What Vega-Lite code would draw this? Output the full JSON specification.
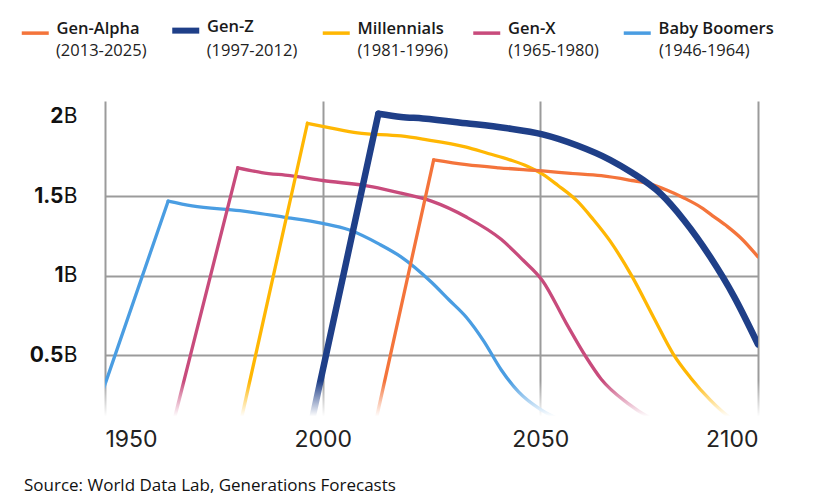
{
  "$schema": "https://vega.github.io/schema/vega-lite/v6.json",
  "width": 653,
  "height": 318,
  "autosize": {"type": "none"},
  "padding": {"left": 105, "top": 101, "right": 62, "bottom": 85},
  "background": "white",
  "config": {
    "view": {"stroke": null},
    "font": "Inter",
    "legend": {"padding": 0}
  },
  "title": {
    "text": "Source: World Data Lab, Generations Forecasts",
    "orient": "bottom",
    "anchor": "start",
    "frame": "group",
    "font": "Open Sans",
    "fontSize": 17,
    "fontWeight": "normal",
    "color": "#111111",
    "dx": -81,
    "offset": 27
  },
  "datasets": {
    "pop": [
      {"gen": "Baby Boomers", "years": "(1946-1964)", "phase": "rise", "year": 1946, "v": 0},
      {"gen": "Baby Boomers", "years": "(1946-1964)", "phase": "rise", "year": 1964.5, "v": 1.47},
      {"gen": "Baby Boomers", "years": "(1946-1964)", "phase": "fall", "year": 1964.5, "v": 1.47},
      {"gen": "Baby Boomers", "years": "(1946-1964)", "phase": "fall", "year": 1970, "v": 1.44},
      {"gen": "Baby Boomers", "years": "(1946-1964)", "phase": "fall", "year": 1981, "v": 1.41},
      {"gen": "Baby Boomers", "years": "(1946-1964)", "phase": "fall", "year": 1991, "v": 1.37},
      {"gen": "Baby Boomers", "years": "(1946-1964)", "phase": "fall", "year": 2000, "v": 1.33},
      {"gen": "Baby Boomers", "years": "(1946-1964)", "phase": "fall", "year": 2006, "v": 1.29},
      {"gen": "Baby Boomers", "years": "(1946-1964)", "phase": "fall", "year": 2013, "v": 1.2},
      {"gen": "Baby Boomers", "years": "(1946-1964)", "phase": "fall", "year": 2018, "v": 1.12},
      {"gen": "Baby Boomers", "years": "(1946-1964)", "phase": "fall", "year": 2025, "v": 0.96},
      {"gen": "Baby Boomers", "years": "(1946-1964)", "phase": "fall", "year": 2029, "v": 0.85},
      {"gen": "Baby Boomers", "years": "(1946-1964)", "phase": "fall", "year": 2033, "v": 0.74},
      {"gen": "Baby Boomers", "years": "(1946-1964)", "phase": "fall", "year": 2037, "v": 0.59},
      {"gen": "Baby Boomers", "years": "(1946-1964)", "phase": "fall", "year": 2041, "v": 0.41},
      {"gen": "Baby Boomers", "years": "(1946-1964)", "phase": "fall", "year": 2045, "v": 0.27},
      {"gen": "Baby Boomers", "years": "(1946-1964)", "phase": "fall", "year": 2050, "v": 0.16},
      {"gen": "Baby Boomers", "years": "(1946-1964)", "phase": "fall", "year": 2055, "v": 0.09},
      {"gen": "Baby Boomers", "years": "(1946-1964)", "phase": "fall", "year": 2062, "v": 0.03},
      {"gen": "Gen-X", "years": "(1965-1980)", "phase": "rise", "year": 1965, "v": 0},
      {"gen": "Gen-X", "years": "(1965-1980)", "phase": "rise", "year": 1980.5, "v": 1.68},
      {"gen": "Gen-X", "years": "(1965-1980)", "phase": "fall", "year": 1980.5, "v": 1.68},
      {"gen": "Gen-X", "years": "(1965-1980)", "phase": "fall", "year": 1986, "v": 1.65},
      {"gen": "Gen-X", "years": "(1965-1980)", "phase": "fall", "year": 1992.5, "v": 1.63},
      {"gen": "Gen-X", "years": "(1965-1980)", "phase": "fall", "year": 2000, "v": 1.6},
      {"gen": "Gen-X", "years": "(1965-1980)", "phase": "fall", "year": 2011.5, "v": 1.56},
      {"gen": "Gen-X", "years": "(1965-1980)", "phase": "fall", "year": 2018, "v": 1.52},
      {"gen": "Gen-X", "years": "(1965-1980)", "phase": "fall", "year": 2025, "v": 1.47},
      {"gen": "Gen-X", "years": "(1965-1980)", "phase": "fall", "year": 2033, "v": 1.37},
      {"gen": "Gen-X", "years": "(1965-1980)", "phase": "fall", "year": 2041, "v": 1.23},
      {"gen": "Gen-X", "years": "(1965-1980)", "phase": "fall", "year": 2046, "v": 1.1},
      {"gen": "Gen-X", "years": "(1965-1980)", "phase": "fall", "year": 2050.5, "v": 0.97},
      {"gen": "Gen-X", "years": "(1965-1980)", "phase": "fall", "year": 2056, "v": 0.7},
      {"gen": "Gen-X", "years": "(1965-1980)", "phase": "fall", "year": 2060.5, "v": 0.49},
      {"gen": "Gen-X", "years": "(1965-1980)", "phase": "fall", "year": 2064, "v": 0.35},
      {"gen": "Gen-X", "years": "(1965-1980)", "phase": "fall", "year": 2070, "v": 0.2},
      {"gen": "Gen-X", "years": "(1965-1980)", "phase": "fall", "year": 2075, "v": 0.11},
      {"gen": "Gen-X", "years": "(1965-1980)", "phase": "fall", "year": 2082, "v": 0.04},
      {"gen": "Millennials", "years": "(1981-1996)", "phase": "rise", "year": 1980.5, "v": 0},
      {"gen": "Millennials", "years": "(1981-1996)", "phase": "rise", "year": 1996.5, "v": 1.96},
      {"gen": "Millennials", "years": "(1981-1996)", "phase": "fall", "year": 1996.5, "v": 1.96},
      {"gen": "Millennials", "years": "(1981-1996)", "phase": "fall", "year": 2002, "v": 1.93},
      {"gen": "Millennials", "years": "(1981-1996)", "phase": "fall", "year": 2008, "v": 1.9},
      {"gen": "Millennials", "years": "(1981-1996)", "phase": "fall", "year": 2018, "v": 1.88},
      {"gen": "Millennials", "years": "(1981-1996)", "phase": "fall", "year": 2023, "v": 1.86},
      {"gen": "Millennials", "years": "(1981-1996)", "phase": "fall", "year": 2033, "v": 1.81},
      {"gen": "Millennials", "years": "(1981-1996)", "phase": "fall", "year": 2038, "v": 1.77},
      {"gen": "Millennials", "years": "(1981-1996)", "phase": "fall", "year": 2043, "v": 1.73},
      {"gen": "Millennials", "years": "(1981-1996)", "phase": "fall", "year": 2047, "v": 1.69},
      {"gen": "Millennials", "years": "(1981-1996)", "phase": "fall", "year": 2050.5, "v": 1.64},
      {"gen": "Millennials", "years": "(1981-1996)", "phase": "fall", "year": 2054, "v": 1.57},
      {"gen": "Millennials", "years": "(1981-1996)", "phase": "fall", "year": 2058.5, "v": 1.47},
      {"gen": "Millennials", "years": "(1981-1996)", "phase": "fall", "year": 2062, "v": 1.36},
      {"gen": "Millennials", "years": "(1981-1996)", "phase": "fall", "year": 2066, "v": 1.22},
      {"gen": "Millennials", "years": "(1981-1996)", "phase": "fall", "year": 2071, "v": 1.0},
      {"gen": "Millennials", "years": "(1981-1996)", "phase": "fall", "year": 2076, "v": 0.74},
      {"gen": "Millennials", "years": "(1981-1996)", "phase": "fall", "year": 2080.5, "v": 0.51},
      {"gen": "Millennials", "years": "(1981-1996)", "phase": "fall", "year": 2084.5, "v": 0.36},
      {"gen": "Millennials", "years": "(1981-1996)", "phase": "fall", "year": 2089, "v": 0.22},
      {"gen": "Millennials", "years": "(1981-1996)", "phase": "fall", "year": 2093, "v": 0.12},
      {"gen": "Millennials", "years": "(1981-1996)", "phase": "fall", "year": 2100, "v": 0.03},
      {"gen": "Gen-Alpha", "years": "(2013-2025)", "phase": "rise", "year": 2011.5, "v": 0},
      {"gen": "Gen-Alpha", "years": "(2013-2025)", "phase": "rise", "year": 2025.5, "v": 1.73},
      {"gen": "Gen-Alpha", "years": "(2013-2025)", "phase": "fall", "year": 2025.5, "v": 1.73},
      {"gen": "Gen-Alpha", "years": "(2013-2025)", "phase": "fall", "year": 2033, "v": 1.7},
      {"gen": "Gen-Alpha", "years": "(2013-2025)", "phase": "fall", "year": 2040.5, "v": 1.68},
      {"gen": "Gen-Alpha", "years": "(2013-2025)", "phase": "fall", "year": 2050.5, "v": 1.66},
      {"gen": "Gen-Alpha", "years": "(2013-2025)", "phase": "fall", "year": 2057, "v": 1.645},
      {"gen": "Gen-Alpha", "years": "(2013-2025)", "phase": "fall", "year": 2064, "v": 1.63},
      {"gen": "Gen-Alpha", "years": "(2013-2025)", "phase": "fall", "year": 2071, "v": 1.6},
      {"gen": "Gen-Alpha", "years": "(2013-2025)", "phase": "fall", "year": 2075, "v": 1.58},
      {"gen": "Gen-Alpha", "years": "(2013-2025)", "phase": "fall", "year": 2079, "v": 1.54},
      {"gen": "Gen-Alpha", "years": "(2013-2025)", "phase": "fall", "year": 2083, "v": 1.49},
      {"gen": "Gen-Alpha", "years": "(2013-2025)", "phase": "fall", "year": 2087, "v": 1.43},
      {"gen": "Gen-Alpha", "years": "(2013-2025)", "phase": "fall", "year": 2090, "v": 1.37},
      {"gen": "Gen-Alpha", "years": "(2013-2025)", "phase": "fall", "year": 2093, "v": 1.31},
      {"gen": "Gen-Alpha", "years": "(2013-2025)", "phase": "fall", "year": 2096, "v": 1.24},
      {"gen": "Gen-Alpha", "years": "(2013-2025)", "phase": "fall", "year": 2100, "v": 1.12},
      {"gen": "Gen-Z", "years": "(1997-2012)", "phase": "rise", "year": 1996.8, "v": 0},
      {"gen": "Gen-Z", "years": "(1997-2012)", "phase": "rise", "year": 2012.8, "v": 2.02},
      {"gen": "Gen-Z", "years": "(1997-2012)", "phase": "fall", "year": 2012.8, "v": 2.02},
      {"gen": "Gen-Z", "years": "(1997-2012)", "phase": "fall", "year": 2018, "v": 2.0},
      {"gen": "Gen-Z", "years": "(1997-2012)", "phase": "fall", "year": 2023, "v": 1.99},
      {"gen": "Gen-Z", "years": "(1997-2012)", "phase": "fall", "year": 2033, "v": 1.96},
      {"gen": "Gen-Z", "years": "(1997-2012)", "phase": "fall", "year": 2042, "v": 1.93},
      {"gen": "Gen-Z", "years": "(1997-2012)", "phase": "fall", "year": 2050.5, "v": 1.89},
      {"gen": "Gen-Z", "years": "(1997-2012)", "phase": "fall", "year": 2058.5, "v": 1.82},
      {"gen": "Gen-Z", "years": "(1997-2012)", "phase": "fall", "year": 2066, "v": 1.73},
      {"gen": "Gen-Z", "years": "(1997-2012)", "phase": "fall", "year": 2071, "v": 1.65},
      {"gen": "Gen-Z", "years": "(1997-2012)", "phase": "fall", "year": 2077.5, "v": 1.52},
      {"gen": "Gen-Z", "years": "(1997-2012)", "phase": "fall", "year": 2083, "v": 1.35},
      {"gen": "Gen-Z", "years": "(1997-2012)", "phase": "fall", "year": 2089, "v": 1.12},
      {"gen": "Gen-Z", "years": "(1997-2012)", "phase": "fall", "year": 2094.5, "v": 0.87},
      {"gen": "Gen-Z", "years": "(1997-2012)", "phase": "fall", "year": 2100, "v": 0.57}
    ]
  },
  "layer": [
    {
      "data": {"name": "pop"},
      "mark": {"type": "line", "clip": true, "interpolate": "monotone", "strokeCap": "round"},
      "encoding": {
        "detail": {"field": "phase", "type": "nominal"},
        "x": {
          "field": "year",
          "type": "quantitative",
          "scale": {"domain": [1950, 2100], "nice": false, "zero": false},
          "axis": {
            "values": [1950, 2000, 2050, 2100],
            "format": "d",
            "title": null,
            "labelFont": "Inter",
            "labelFontSize": 23,
            "labelColor": "#222222",
            "labelPadding": 9,
            "domain": false,
            "ticks": false,
            "grid": true,
            "gridColor": "#9b9b9b",
            "gridWidth": 2
          }
        },
        "y": {
          "field": "v",
          "type": "quantitative",
          "scale": {"domain": [0.1, 2.1], "nice": false, "zero": false},
          "axis": {
            "orient": "left",
            "values": [0.5, 1, 1.5, 2],
            "format": ".1~f",
            "title": null,
            "labelFont": "Inter",
            "labelFontSize": 21,
            "labelFontWeight": "bold",
            "labelColor": "#111111",
            "labelPadding": 42,
            "domain": false,
            "ticks": false,
            "grid": true,
            "gridColor": "#9b9b9b",
            "gridWidth": 2,
            "gridOpacity": {"condition": {"test": "datum.value == 2", "value": 0}, "value": 1}
          }
        },
        "color": {
          "field": "gen",
          "type": "nominal",
          "scale": {
            "domain": ["Gen-Alpha", "Gen-Z", "Millennials", "Gen-X", "Baby Boomers"],
            "range": ["#F4743B", "#1F3F88", "#FFB703", "#C84B7C", "#4A9DE2"]
          },
          "legend": {
            "orient": "none",
            "legendX": -78,
            "legendY": -79,
            "direction": "horizontal",
            "columns": 5,
            "gridAlign": "all",
            "title": null,
            "symbolType": "stroke",
            "symbolSize": 729,
            "symbolStrokeWidth": 3.5,
            "labelFont": "Open Sans",
            "labelFontSize": 16.5,
            "labelFontWeight": 600,
            "labelColor": "#1a1a1a",
            "labelOffset": 13,
            "labelBaseline": "middle",
            "columnPadding": -12.5,
            "encode": {
              "symbols": {"update": {"strokeWidth": {"signal": "datum.value === 'Gen-Z' ? 6 : 3.5"}}},
              "labels": {"update": {"dy": {"value": -4}}}
            }
          }
        },
        "strokeWidth": {
          "field": "years",
          "type": "nominal",
          "scale": {
            "type": "ordinal",
            "domain": ["(2013-2025)", "(1997-2012)", "(1981-1996)", "(1965-1980)", "(1946-1964)"],
            "range": [3.3, 6.5, 3.3, 3.3, 3.3]
          },
          "legend": {
            "orient": "none",
            "legendX": -90,
            "legendY": -67,
            "direction": "horizontal",
            "columns": 5,
            "gridAlign": "all",
            "title": null,
            "symbolType": "stroke",
            "symbolSize": 729,
            "symbolOpacity": 0,
            "symbolStrokeColor": "white",
            "labelFont": "Open Sans",
            "labelFontSize": 16.5,
            "labelFontWeight": "normal",
            "labelColor": "#222222",
            "labelOffset": 7,
            "labelBaseline": "middle",
            "columnPadding": 18.75
          }
        }
      }
    },
    {
      "data": {"values": [{}]},
      "mark": {
        "type": "rect",
        "color": {
          "gradient": "linear",
          "x1": 0, "y1": 0, "x2": 0, "y2": 1,
          "stops": [
            {"offset": 0, "color": "rgba(255,255,255,0)"},
            {"offset": 0.8, "color": "#ffffff"},
            {"offset": 1, "color": "#ffffff"}
          ]
        }
      },
      "encoding": {
        "x": {"datum": 1948, "type": "quantitative"},
        "x2": {"datum": 2102},
        "y": {
          "datum": 0.34,
          "type": "quantitative",
          "axis": {
            "orient": "left",
            "values": [0.5, 1, 1.5, 2],
            "labelExpr": "'B'",
            "title": null,
            "labelFont": "Inter",
            "labelFontSize": 21,
            "labelFontWeight": "normal",
            "labelColor": "#111111",
            "labelPadding": 28,
            "domain": false,
            "ticks": false,
            "grid": false
          }
        },
        "y2": {"datum": 0.06}
      }
    }
  ],
  "resolve": {"axis": {"y": "independent"}}
}
